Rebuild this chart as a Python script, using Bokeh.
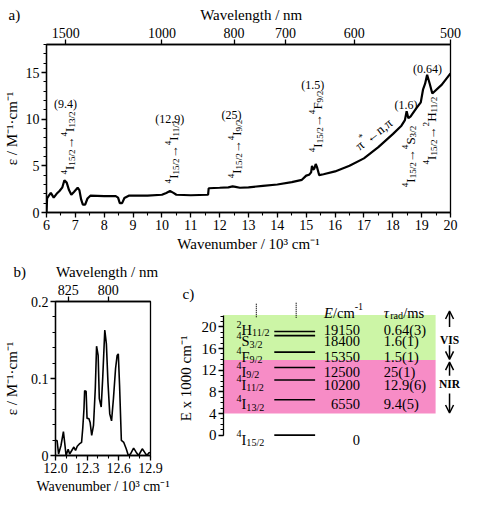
import math
from bokeh.plotting import figure
from bokeh.models import (Range1d, LinearAxis, FixedTicker, SingleIntervalTicker,
                          CustomJSTickFormatter, ColumnDataSource, Arrow, OpenHead)
from bokeh.layouts import column, row
from bokeh.core.properties import value
from bokeh.embed import file_html
from bokeh.resources import INLINE

FONT = "Liberation Serif"

# ---------------- data ----------------
# panel a: absorption spectrum (wavenumber / 10^3 cm-1, epsilon / M-1 cm-1)
wn_a = [6.00, 6.02, 6.08, 6.15, 6.25, 6.35, 6.45, 6.55, 6.62, 6.70,
        6.78, 6.86, 6.95, 7.08, 7.14, 7.20, 7.26, 7.34, 7.42, 7.52,
        8.00, 8.40, 8.48, 8.54, 8.62, 8.70, 8.85, 9.50, 10.00, 10.15,
        10.28, 10.40, 10.50, 11.00, 11.60, 11.62, 12.00, 12.30, 12.45, 12.55,
        12.70, 13.00, 13.50, 14.00, 14.50, 14.85, 15.00, 15.10, 15.17, 15.20,
        15.24, 15.28, 15.33, 15.38, 15.45, 15.60, 16.00, 16.50, 17.00, 17.50,
        18.00, 18.30, 18.42, 18.48, 18.54, 18.62, 18.80, 18.97, 19.05, 19.12,
        19.19, 19.28, 19.37, 19.70, 20.00]
eps_a = [0.0, 1.5, 1.8, 2.1, 1.6, 2.0, 2.3, 2.7, 3.45, 3.2,
         2.4, 1.9, 2.2, 2.65, 2.4, 1.4, 0.85, 0.85, 1.5, 1.8,
         1.75, 1.75, 1.6, 1.0, 1.0, 1.55, 1.8, 1.8, 1.9, 2.1,
         2.3, 2.1, 1.9, 1.85, 1.9, 2.6, 2.65, 2.7, 2.8, 2.75,
         2.65, 2.7, 2.85, 3.0, 3.25, 3.5, 3.95, 4.05, 4.3, 5.0,
         4.6, 4.7, 5.2, 4.8, 4.0, 4.1, 4.4, 5.0, 5.8, 7.0,
         8.4, 9.3, 9.9, 10.85, 10.1, 10.3, 11.1, 11.8, 13.2, 13.8,
         14.75, 13.8, 12.75, 13.7, 14.9]
top_nm_a = [1500, 1000, 800, 700, 600, 500]

# panel b: 4I15/2 -> 4I9/2 band
wn_b = [12.000, 12.015, 12.029, 12.052, 12.075, 12.090, 12.100, 12.120, 12.134, 12.154,
        12.174, 12.190, 12.206, 12.226, 12.247, 12.258, 12.270, 12.276, 12.290, 12.299,
        12.316, 12.328, 12.343, 12.360, 12.377, 12.389, 12.404, 12.415, 12.433, 12.447,
        12.467, 12.482, 12.497, 12.514, 12.531, 12.549, 12.569, 12.584, 12.595, 12.607,
        12.624, 12.647, 12.670, 12.690, 12.711, 12.740, 12.764, 12.787, 12.822, 12.845,
        12.865, 12.886, 12.900]
eps_b = [0.0195, 0.0195, 0.002, 0.013, 0.031, 0.013, 0.0, 0.008, 0.002, 0.0065,
         0.011, 0.0065, 0.012, 0.015, 0.017, 0.035, 0.061, 0.084, 0.0835, 0.048,
         0.048, 0.043, 0.026, 0.039, 0.087, 0.142, 0.130, 0.074, 0.063, 0.100,
         0.163, 0.145, 0.095, 0.054, 0.045, 0.074, 0.113, 0.130, 0.132, 0.091,
         0.0195, 0.017, 0.0087, 0.0, 0.002, 0.0095, 0.0043, 0.0, 0.0087, 0.004,
         0.0, 0.0035, 0.004]
top_nm_b = [825, 800]

# transitions from 4I15/2 (panel a)
trans_sup = ["4", "4", "4", "4", "4", "2"]
trans_sym = ["I", "I", "I", "F", "S", "H"]
trans_j = ["13/2", "11/2", "9/2", "9/2", "3/2", "11/2"]
trans_wn = [6.66, 10.26, 12.44, 15.25, 18.46, 19.20]
trans_tau = ["9.4", "12.9", "25", "1.5", "1.6", "0.64"]

# panel c: energy levels
level_sup = ["4", "4", "4", "4", "4", "4", "2"]
level_sym = ["I", "I", "I", "I", "F", "S", "H"]
level_j = ["15/2", "13/2", "11/2", "9/2", "9/2", "3/2", "11/2"]
level_E = [0, 6550, 10200, 12500, 15350, 18400, 19150]
level_tau = ["", "9.4(5)", "12.9(6)", "25(1)", "1.5(1)", "1.6(1)", "0.64(3)"]
band_names = ["NIR", "VIS"]
band_lo = [4.0, 13.9]
band_hi = [13.9, 22.2]
band_colors = ["#f78cc6", "#ccf5a6"]

# ---------------- helpers ----------------
W = {".": .25, ",": .25, "/": .278, "(": .333, ")": .333, " ": .25, "\u00a0": .25,
     "I": .333, "H": .722, "S": .556, "F": .556, "E": .611, "N": .722, "R": .667,
     "V": .722, "\u2192": 1.0, "\u2190": 1.0, "\u03c0": .55, "*": .5, "n": .5,
     "c": .444, "m": .778, "s": .389, "r": .333, "a": .444, "d": .5, "\u03c4": .44,
     "-": .333, "x": .5, "b": .5, "W": .944, "v": .5, "e": .444, "l": .278,
     "g": .5, "t": .278, "h": .5}
WB = {"I": .389, "R": .722, "S": .556, "V": .722, "N": .722}
SS = 0.7
NBSP = "\u00a0"


def tw(s, size, bold=False):
    t = 0.0
    for ch in s:
        if bold and ch in WB:
            t += WB[ch]
        else:
            t += W.get(ch, 0.5)
    return t * size


def new_rows():
    return {k: [] for k in ("x", "y", "text", "fs", "st", "xo", "yo", "ang")}


def rich(rows, parts, x, y, size, angle=0.0, align="center"):
    items = []
    for p in parts:
        t, k = p[0], p[1]
        st = p[2] if len(p) > 2 else "normal"
        fs = size if k == "n" else size * SS
        items.append((t, k, st, fs, tw(t, fs, st == "bold")))
    total = sum(i[4] for i in items)
    adv = {"left": 0.0, "center": -total / 2, "right": -total}[align]
    ca, sa = math.cos(angle), math.sin(angle)
    for t, k, st, fs, w in items:
        r = -0.33 * size + {"n": 0.0, "sup": 0.42 * size, "sub": -0.2 * size}[k]
        rows["x"].append(x)
        rows["y"].append(y)
        rows["text"].append(t)
        rows["fs"].append(f"{fs:.1f}px")
        rows["st"].append(st)
        rows["xo"].append(adv * ca - r * sa)
        rows["yo"].append(-adv * sa - r * ca)
        rows["ang"].append(angle)
        adv += w


def draw_rows(p, rows, font=FONT):
    p.text(x="x", y="y", text="text", source=ColumnDataSource(rows),
           text_font=value(font), text_font_size="fs", text_font_style="st",
           x_offset="xo", y_offset="yo", angle="ang", text_align="left",
           text_baseline="alphabetic", text_color="black")


def style_axis(ax, label_standoff=3):
    ax.axis_line_color = "black"
    ax.axis_line_width = 1.3
    ax.major_tick_line_color = "black"
    ax.major_tick_line_width = 1.3
    ax.minor_tick_line_color = "black"
    ax.minor_tick_line_width = 1.1
    ax.major_tick_in = 0
    ax.major_tick_out = 5
    ax.minor_tick_in = 0
    ax.minor_tick_out = 3
    ax.major_label_text_font = FONT
    ax.major_label_text_font_size = "14px"
    ax.major_label_text_color = "black"
    ax.axis_label_text_font = FONT
    ax.axis_label_text_font_size = "15px"
    ax.axis_label_text_font_style = "normal"
    ax.axis_label_text_color = "black"
    ax.major_label_standoff = 2
    ax.axis_label_standoff = label_standoff


def head_title(p, letter, offset, gap_px=None, heading=None, standoff=3, font=FONT):
    """Panel letter (and optionally the top heading on the same line) as the plot title."""
    txt = letter
    if heading is not None:
        n = max(1, int(round(gap_px / tw(NBSP, 15))))
        txt = letter + NBSP * n + heading
    p.title.text = txt
    p.title.align = "left"
    p.title.offset = offset
    p.title.standoff = standoff
    p.title.text_font = font
    p.title.text_font_size = "15px"
    p.title.text_font_style = "normal"
    p.title.text_color = "black"


NM_FMT = "return Math.round(1e4/tick).toString();"
EPS_LABEL = "\u03b5 / M\u207b\u00b9\u00b7cm\u207b\u00b9"
WN_LABEL = "Wavenumber / 10\u00b3 cm\u207b\u00b9"
WL_LABEL = "Wavelength / nm"

# ---------------- panel a ----------------
pA = figure(width=462, height=258, x_range=Range1d(6, 20), y_range=Range1d(0, 18),
            output_backend="svg", toolbar_location=None, tools="",
            min_border_left=42, min_border_right=12, min_border_top=44, min_border_bottom=46)
pA.xgrid.visible = False
pA.ygrid.visible = False
pA.outline_line_color = "black"
pA.outline_line_width = 1.3
bx = pA.below[0]
bx.ticker = SingleIntervalTicker(interval=1, num_minor_ticks=2)
bx.axis_label = WN_LABEL
style_axis(bx)
ly = pA.left[0]
ly.ticker = SingleIntervalTicker(interval=5, num_minor_ticks=5)
ly.axis_label = EPS_LABEL
style_axis(ly)
topA = LinearAxis(ticker=FixedTicker(ticks=[1e4 / n for n in top_nm_a]),
                  formatter=CustomJSTickFormatter(code=NM_FMT))
style_axis(topA)
pA.add_layout(topA, "above")
gapA = (42 + 204 - tw(WL_LABEL, 15) / 2) - (4 + tw("a)", 15))
head_title(pA, "a)", -38, gapA, WL_LABEL)

pA.line(wn_a, eps_a, line_color="black", line_width=2.2)

rowsA = new_rows()
lab_y = [7.45, 6.5, 6.8, 9.75, 6.0, 8.8]
tau_x = [6.66, 10.27, 12.41, 15.23, 18.46, 19.20]
tau_y = [12.1, 10.4, 10.9, 14.05, 11.95, 15.8]
for i in range(len(trans_wn)):
    rich(rowsA, [("4", "sup"), ("I", "n"), ("15/2", "sub"), ("\u2192", "n"),
                 (trans_sup[i], "sup"), (trans_sym[i], "n"), (trans_j[i], "sub")],
         trans_wn[i], lab_y[i], 13, angle=math.pi / 2)
    rich(rowsA, [("(" + trans_tau[i] + ")", "n")], tau_x[i], tau_y[i], 12)
rich(rowsA, [("\u03c0", "n"), ("*", "sup"), ("\u2190n,\u03c0", "n")], 17.26, 8.77, 13.5,
     angle=math.radians(37.6))
draw_rows(pA, rowsA)

# ---------------- panel b ----------------
pB = figure(width=174, height=245, x_range=Range1d(12.0, 12.9), y_range=Range1d(0, 0.2),
            output_backend="svg", toolbar_location=None, tools="",
            min_border_left=46, min_border_right=24, min_border_top=43, min_border_bottom=48)
pB.xgrid.visible = False
pB.ygrid.visible = False
pB.outline_line_color = "black"
pB.outline_line_width = 1.3
bxB = pB.below[0]
bxB.ticker = SingleIntervalTicker(interval=0.3, num_minor_ticks=3)
bxB.formatter = CustomJSTickFormatter(code="return tick.toFixed(1);")
bxB.axis_label = WN_LABEL
style_axis(bxB)
bxB.axis_label_text_font_size = "14px"
lyB = pB.left[0]
lyB.ticker = SingleIntervalTicker(interval=0.1, num_minor_ticks=5)
lyB.formatter = CustomJSTickFormatter(code="return Math.abs(tick) < 1e-9 ? '0' : tick.toFixed(1);")
lyB.axis_label = EPS_LABEL
style_axis(lyB, label_standoff=8)
topB = LinearAxis(ticker=FixedTicker(ticks=[1e4 / n for n in top_nm_b]),
                  formatter=CustomJSTickFormatter(code=NM_FMT))
style_axis(topB)
pB.add_layout(topB, "above")
gapB = (46 + 52 - tw(WL_LABEL, 15) / 2) - (4 + tw("b)", 15))
head_title(pB, "b)", -42, gapB, WL_LABEL)
pB.line(wn_b, eps_b, line_color="black", line_width=1.6)

# ---------------- panel c ----------------
pC = figure(width=288, height=245, x_range=Range1d(0, 238), y_range=Range1d(-3.76, 24.7),
            x_axis_type=None, y_axis_type=None, output_backend="svg",
            toolbar_location=None, tools="",
            min_border_left=48, min_border_right=2, min_border_top=18, min_border_bottom=15)
pC.outline_line_color = None
pC.xgrid.visible = False
pC.ygrid.visible = False
yC = LinearAxis(ticker=SingleIntervalTicker(interval=4, num_minor_ticks=4), bounds=(0, 22.2),
                axis_label="E x 1000 cm\u207b\u00b9")
style_axis(yC, label_standoff=5)
yC.major_label_text_font_size = "15px"
pC.add_layout(yC, "left")
head_title(pC, "c)", -41, standoff=0)

pC.quad(left=0, right=213, bottom=band_lo, top=band_hi, fill_color=band_colors, line_color=None)
E_k = [e / 1000 for e in level_E]
pC.segment(x0=51, x1=92, y0=E_k, y1=E_k, line_color="black", line_width=1.6)
pC.segment(x0=[33, 73], x1=[33, 73], y0=[21.8, 21.7], y1=[24.4, 24.5],
           line_color="black", line_width=1.2, line_dash="1 1")

rowsC = new_rows()
nudge = [0.0, 0.05, 0.0, 0.1, 0.0, -0.15, 1.15]
for i in range(len(level_E)):
    ry = E_k[i] + nudge[i]
    rich(rowsC, [(level_sup[i], "sup"), (level_sym[i], "n"), (level_j[i], "sub")],
         13, ry, 14.5, align="left")
    rich(rowsC, [(str(level_E[i]), "n")], 137, ry, 14.5, align="right")
    if level_tau[i]:
        rich(rowsC, [(level_tau[i], "n")], 161, ry, 14.5, align="left")
rich(rowsC, [("E", "n", "italic"), ("/cm", "n"), ("-1", "sup")], 101, 23.55, 14.5, align="left")
rich(rowsC, [("\u03c4", "n", "italic"), ("rad", "sub"), ("/ms", "n")], 161, 23.55, 14.5, align="left")
band_label_y = [10.2, 18.25]
for name, yy in zip(band_names, band_label_y):
    rich(rowsC, [(name, "n", "bold")], 227, yy, 11.5)
draw_rows(pC, rowsC)

arrow_from = [20.0, 16.6, 11.0, 7.7]
arrow_to = [22.95, 14.0, 13.5, 4.1]
for a0, a1 in zip(arrow_from, arrow_to):
    pC.add_layout(Arrow(end=OpenHead(size=8, line_width=1.5, line_color="black"),
                        x_start=227, y_start=a0, x_end=227, y_end=a1,
                        line_width=1.5, line_color="black"))

layout = column(pA, row(pB, pC))
open("out.html", "w").write(file_html(layout, INLINE))
